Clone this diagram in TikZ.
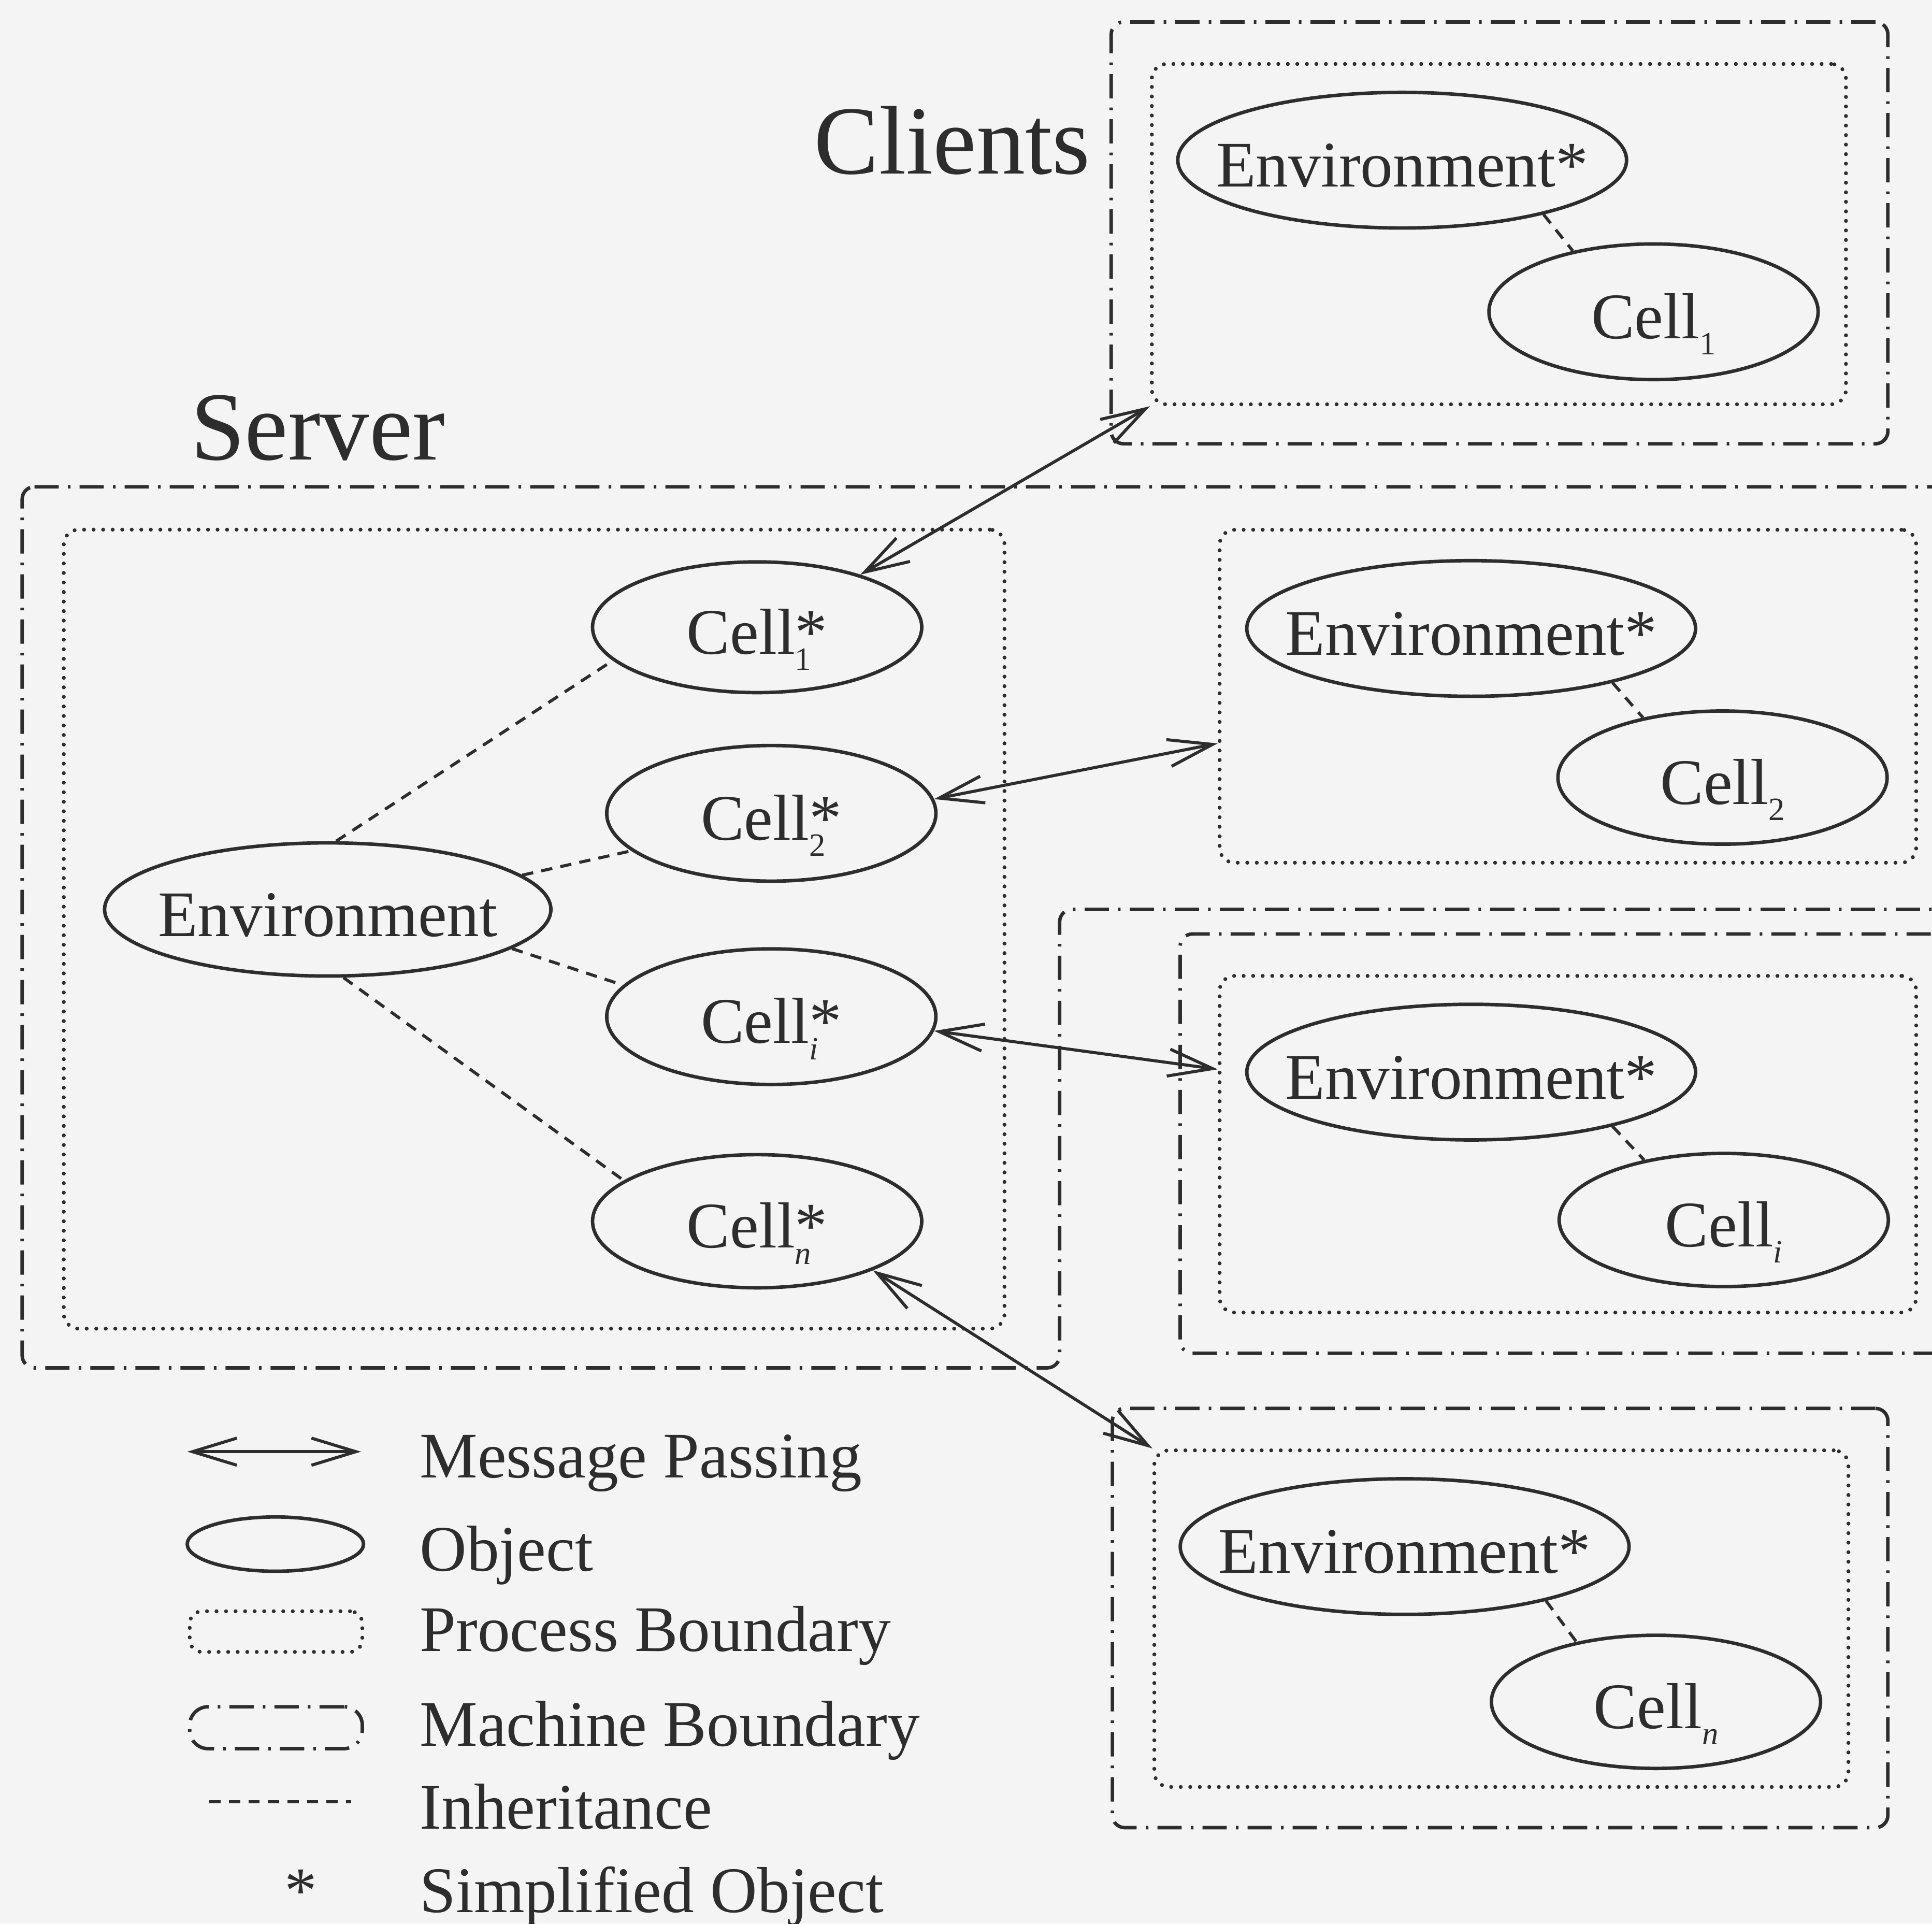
\documentclass[tikz,border=0pt]{standalone}
\usepackage{fontspec}
\setmainfont{Liberation Serif}
\usetikzlibrary{shapes.geometric,arrows.meta,calc}
\definecolor{bgc}{RGB}{244,244,244}
\definecolor{ink}{RGB}{45,45,45}
\newcommand{\ot}[1]{\makebox[0pt]{\raisebox{-0.41em}[0pt][0pt]{#1}}}
\newcommand{\sbs}[1]{\raisebox{-0.25em}{\fontsize{7.5}{8}\selectfont #1}}
\begin{document}
\begin{tikzpicture}[x=0.01cm,y=-0.01cm,
  every node/.style={font=\fontsize{15}{18}\selectfont, text=ink},
  objA/.style={draw=ink, line width=0.8pt, ellipse, inner sep=0pt, minimum width=3.64cm, minimum height=1.10cm},
  objB/.style={draw=ink, line width=0.8pt, ellipse, inner sep=0pt, minimum width=2.67cm, minimum height=1.08cm},
  procbox/.style={draw=ink, line width=0.9pt, rounded corners=0.12cm, dash pattern=on 0pt off 2.2pt, line cap=round, inner sep=0pt},
  machbox/.style={draw=ink, line width=0.8pt, rounded corners=0.1cm, dash pattern=on 5.6pt off 2.1pt on 0.6pt off 2.1pt, inner sep=0pt},
  inherit/.style={draw=ink, line width=0.7pt, dash pattern=on 2.6pt off 1.9pt},
  msg/.style={draw=ink, line width=0.7pt, {Straight Barb[length=0.36cm,width=0.22cm]}-{Straight Barb[length=0.36cm,width=0.22cm]}},
  title/.style={font=\fontsize{22.5}{27}\selectfont, anchor=base west, inner sep=0pt},
  legtext/.style={anchor=base west, inner sep=0pt},
]
\useasboundingbox (0,0) rectangle (1568,1561);
\fill[bgc] (0,0) rectangle (1568,1561);
\clip (0,0) rectangle (1568,1561);

% titles
\node[title] (tc) at (660,141) {Clients};
\node[title] (ts) at (154,373) {Server};

% machine boundaries
\node[machbox, minimum width=6.30cm, minimum height=3.42cm] (m1) at (1217,189) {};
\draw[machbox] (18,395) -- (1650,395) -- (1650,738) -- (860,738) -- (860,1110) -- (18,1110) -- cycle;
\node[machbox, minimum width=6.92cm, minimum height=3.40cm] (mi) at (1304,928) {};
\node[machbox, minimum width=6.29cm, minimum height=3.40cm] (mn) at (1217.5,1313) {};

% process boundaries
\node[procbox, minimum width=5.63cm, minimum height=2.76cm] (p1) at (1216.5,190) {};
\node[procbox, minimum width=7.63cm, minimum height=6.48cm] (pS) at (433.5,754) {};
\node[procbox, minimum width=5.65cm, minimum height=2.70cm] (p2) at (1272.5,565) {};
\node[procbox, minimum width=5.65cm, minimum height=2.73cm] (pI) at (1272.5,928.5) {};
\node[procbox, minimum width=5.63cm, minimum height=2.73cm] (pn) at (1218.5,1313.5) {};

% client objects
\node[objA] (e1) at (1138,130) {\ot{Environment*}};
\node[objB, minimum height=1.10cm] (c1) at (1342,253) {\ot{Cell\sbs{1}}};
\node[objA] (e2) at (1194,510) {\ot{Environment*}};
\node[objB] (c2) at (1398,631) {\ot{Cell\sbs{2}}};
\node[objA] (eI) at (1194,870) {\ot{Environment*}};
\node[objB] (cI) at (1399,990) {\ot{Cell\sbs{\textit{i}}}};
\node[objA] (en) at (1140,1255) {\ot{Environment*}};
\node[objB] (cn) at (1344,1381) {\ot{Cell\sbs{\textit{n}}}};

\draw[inherit] (e1.-21) -- (c1.143);
\draw[inherit] (e2.-21) -- (c2.143);
\draw[inherit] (eI.-21) -- (cI.143);
\draw[inherit] (en.-21) -- (cn.143);

% server objects
\node[objA, minimum width=3.62cm, minimum height=1.08cm] (env) at (266,738) {\ot{Environment}};
\node[objB, minimum height=1.06cm] (s1) at (614.5,509) {\ot{Cell\rlap{\sbs{1}}*}};
\node[objB, minimum height=1.10cm] (s2) at (626,660) {\ot{Cell\rlap{\sbs{2}}*}};
\node[objB, minimum height=1.10cm] (sI) at (626,825) {\ot{Cell\rlap{\sbs{\textit{i}}}*}};
\node[objB, minimum height=1.08cm] (sn) at (614.5,991) {\ot{Cell\rlap{\sbs{\textit{n}}}*}};

\draw[inherit] (env.83) -- (s1.193);
\draw[inherit] (env.10) -- (s2.195);
\draw[inherit] (env.-12) -- (sI.168);
\draw[inherit] (env.-77) -- (sn.163);

% message passing
\draw[msg] (s1.27) -- (p1.south west);
\draw[msg] (s2.5) -- ($(p2.north west)!0.64!(p2.south west)$);
\draw[msg] (sI.-5) -- ($(pI.north west)!0.28!(pI.south west)$);
\draw[msg] (sn.-23) -- (pn.north west);

% legend
\coordinate (lm1) at (152,1178);
\coordinate (lm2) at (293,1178);
\draw[msg] (lm1) -- (lm2);
\node[draw=ink, line width=0.8pt, ellipse, inner sep=0pt, minimum width=1.43cm, minimum height=0.44cm] (lo) at (223.5,1253) {};
\node[procbox, rounded corners=0.1cm, minimum width=1.40cm, minimum height=0.33cm] (lp) at (224,1324) {};
\node[machbox, rounded corners=0.15cm, minimum width=1.40cm, minimum height=0.34cm] (lmb) at (224,1402) {};
\coordinate (li1) at (170,1462);
\coordinate (li2) at (285,1462);
\draw[inherit] (li1) -- (li2);
\node[anchor=base, inner sep=0pt] (lstar) at (244,1552) {*};

\node[legtext] (t1) at (340,1199) {Message Passing};
\node[legtext] (t2) at (340,1275) {Object};
\node[legtext] (t3) at (340,1340) {Process Boundary};
\node[legtext] (t4) at (340,1417) {Machine Boundary};
\node[legtext] (t5) at (340,1484) {Inheritance};
\node[legtext] (t6) at (340,1552) {Simplified Object};
\end{tikzpicture}
\end{document}
